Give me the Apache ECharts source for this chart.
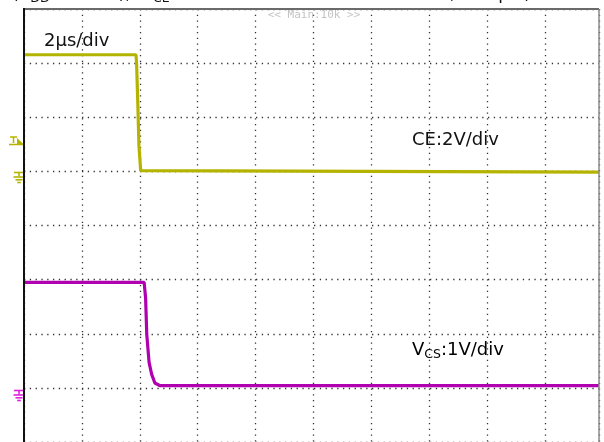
<!DOCTYPE html>
<html>
<head>
<meta charset="utf-8">
<script src="https://cdn.jsdelivr.net/npm/echarts@6/dist/echarts.min.js"></script>
<style>
html,body{margin:0;padding:0;background:#fff;}
#chart{width:604px;height:442px;}
</style>
</head>
<body>
<div id="chart"></div>
<script>
// Time axis (µs), 2 µs/div
const xMin = 0, xMax = 19.86, xStep = 2;
// CE trace (V), 2 V/div
const timeCE = [0, 3.87, 3.89, 3.93, 3.97, 4.00, 4.03, 4.06, 19.86];
const valCE  = [4.31, 4.31, 3.94, 2.54, 0.95, 0.90, 0.03, -0.03, -0.03];
// VCS trace (V), 1 V/div
const timeCS = [0, 4.15, 4.20, 4.24, 4.32, 4.41, 4.52, 4.70, 19.86];
const valCS  = [1.95, 1.95, 1.66, 0.99, 0.47, 0.25, 0.09, 0.04, 0.04];
// Labels
const labelTime = '2μs/div';
const labelCE = 'CE:2V/div';
const labelCS = ['V', 'CS', ':1V/div'];
const labelMain = '<< Main:10k >>';

const colCE = '#b4b400';
const colCS = '#b000b0';
const font = 'DejaVu Sans';

const chart = echarts.init(document.getElementById('chart'), null, {renderer: 'canvas'});

function ground(x, y, color) {
  return {
    type: 'group', z: 100,
    children: [
      {type: 'line', shape: {x1: x - 5, y1: y, x2: x + 6, y2: y}, style: {stroke: color, lineWidth: 1.6}},
      {type: 'line', shape: {x1: x, y1: y, x2: x, y2: y + 4}, style: {stroke: color, lineWidth: 1.6}},
      {type: 'line', shape: {x1: x - 5.5, y1: y + 4.5, x2: x + 5.5, y2: y + 4.5}, style: {stroke: color, lineWidth: 1.6}},
      {type: 'line', shape: {x1: x - 3.5, y1: y + 7.3, x2: x + 3.5, y2: y + 7.3}, style: {stroke: color, lineWidth: 1.6}},
      {type: 'line', shape: {x1: x - 1.8, y1: y + 10, x2: x + 1.8, y2: y + 10}, style: {stroke: color, lineWidth: 1.6}}
    ]
  };
}

const pair = (t, v) => t.map((x, i) => [x, v[i]]);

chart.setOption({
  animation: false,
  backgroundColor: '#ffffff',
  grid: {left: 24, top: 9, width: 575, height: 436, show: false},
  xAxis: {
    type: 'value', min: xMin, max: xMax, interval: xStep,
    axisLine: {show: false}, axisTick: {show: false}, axisLabel: {show: false},
    splitLine: {show: true, lineStyle: {color: '#333', width: 1.3, type: [1.3, 4.45]}}
  },
  yAxis: [
    {
      type: 'value', min: -10, max: 6, interval: 2,
      axisLine: {show: false}, axisTick: {show: false}, axisLabel: {show: false},
      splitLine: {show: true, lineStyle: {color: '#333', width: 1.3, type: [1.3, 4.5]}}
    },
    {
      type: 'value', min: -1, max: 7, interval: 1,
      axisLine: {show: false}, axisTick: {show: false}, axisLabel: {show: false},
      splitLine: {show: false}
    }
  ],
  series: [
    {
      type: 'line', yAxisIndex: 0, data: pair(timeCE, valCE), symbol: 'none',
      lineStyle: {color: colCE, width: 3.2}, z: 5
    },
    {
      type: 'line', yAxisIndex: 1, data: pair(timeCS, valCS), symbol: 'none',
      lineStyle: {color: colCS, width: 3.2}, z: 6
    }
  ],
  graphic: [
    // frame
    {type: 'line', z: 90, shape: {x1: 24, y1: 9, x2: 599, y2: 9}, style: {stroke: '#6a6a6a', lineWidth: 2}},
    {type: 'line', z: 90, shape: {x1: 599, y1: 9, x2: 599, y2: 442}, style: {stroke: '#8a8a8a', lineWidth: 1.5}},
    {type: 'line', z: 91, shape: {x1: 24, y1: 8, x2: 24, y2: 442}, style: {stroke: '#111', lineWidth: 2}},
    // cropped caption at top
    {
      type: 'text', z: 95, x: 12, y: -16,
      style: {
        text: '(V{s|DD} = 5.0 V),  V{s|CE} Turn-off Waveform at Ta = 25 °C, Sample)',
        font: '17px "' + font + '"', fill: '#111', verticalAlign: 'top',
        rich: {s: {fontSize: 12.5, fontFamily: font, padding: [8, 0, 0, 0]}}
      }
    },
    {
      type: 'text', z: 95, x: 314, y: 15,
      style: {text: labelMain, font: '11px "DejaVu Sans Mono"', fill: '#c4c4c4', align: 'center', verticalAlign: 'middle'}
    },
    {
      type: 'text', z: 95, x: 44, y: 41,
      style: {text: labelTime, font: '18px "' + font + '"', fill: '#111', verticalAlign: 'middle'}
    },
    {
      type: 'text', z: 95, x: 412, y: 140,
      style: {text: labelCE, font: '18px "' + font + '"', fill: '#111', verticalAlign: 'middle'}
    },
    {
      type: 'text', z: 95, x: 412, y: 350,
      style: {
        text: '{a|' + labelCS[0] + '}{b|' + labelCS[1] + '}{a|' + labelCS[2] + '}',
        verticalAlign: 'middle',
        rich: {
          a: {fontSize: 18, fontFamily: font, color: '#111'},
          b: {fontSize: 12.5, fontFamily: font, color: '#111', padding: [9, 0, 0, 0]}
        }
      }
    },
    // trigger marker
    {
      type: 'group', z: 100,
      children: [
        {type: 'line', shape: {x1: 10, y1: 137, x2: 17, y2: 137}, style: {stroke: colCE, lineWidth: 1.5}},
        {type: 'line', shape: {x1: 13.5, y1: 137, x2: 13.5, y2: 143}, style: {stroke: colCE, lineWidth: 1.5}},
        {type: 'polygon', shape: {points: [[17, 138], [24.5, 145], [17, 145]]}, style: {fill: colCE}},
        {type: 'line', shape: {x1: 9, y1: 144.5, x2: 24, y2: 144.5}, style: {stroke: colCE, lineWidth: 1.5}}
      ]
    },
    ground(19, 172.5, colCE),
    ground(19, 390.5, '#e020e0')
  ]
});
</script>
</body>
</html>
